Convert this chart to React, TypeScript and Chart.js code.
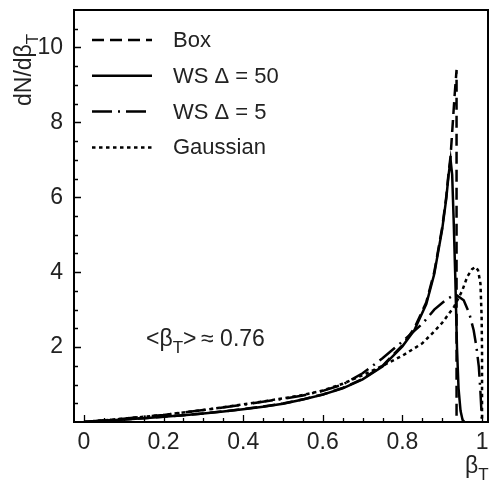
import React, { useEffect, useRef } from "react";
import { Chart, registerables } from "chart.js";

Chart.register(...registerables);

// ---- data ----
const boxBeta = [0, 0.05, 0.1, 0.15, 0.2, 0.25, 0.3, 0.35, 0.4, 0.45, 0.5, 0.55, 0.6, 0.65, 0.7, 0.75, 0.8, 0.83, 0.86, 0.88, 0.9, 0.91, 0.916, 0.921, 0.926, 0.931, 0.936, 0.936];
const boxDensity = [0, 0.034, 0.068, 0.102, 0.142, 0.183, 0.228, 0.283, 0.344, 0.415, 0.495, 0.605, 0.735, 0.91, 1.15, 1.5, 2.05, 2.5, 3.2, 4.0, 5.2, 6.0, 6.65, 7.1, 7.9, 8.7, 9.4, 0];

const ws50Beta = [0, 0.05, 0.1, 0.15, 0.2, 0.25, 0.3, 0.35, 0.4, 0.45, 0.5, 0.55, 0.6, 0.65, 0.7, 0.75, 0.8, 0.83, 0.86, 0.88, 0.9, 0.91, 0.916, 0.921, 0.925, 0.929, 0.933, 0.937, 0.941, 0.946, 0.951, 0.956];
const ws50Density = [0, 0.033, 0.066, 0.1, 0.14, 0.18, 0.225, 0.28, 0.34, 0.41, 0.49, 0.6, 0.73, 0.9, 1.14, 1.48, 2.02, 2.45, 3.15, 3.95, 5.15, 5.95, 6.6, 7.0, 6.6, 5.3, 3.8, 2.0, 0.9, 0.3, 0.06, 0];

const ws5Beta = [0, 0.1, 0.2, 0.3, 0.4, 0.5, 0.55, 0.6, 0.65, 0.7, 0.75, 0.8, 0.85, 0.88, 0.91, 0.933, 0.954, 0.968, 0.979, 0.986, 0.992, 0.996, 1.0];
const ws5Density = [0, 0.09, 0.19, 0.32, 0.46, 0.62, 0.71, 0.83, 1.0, 1.3, 1.7, 2.15, 2.62, 3.0, 3.27, 3.41, 3.25, 2.9, 2.45, 2.0, 1.47, 0.8, 0];

const gaussBeta = [0, 0.1, 0.2, 0.3, 0.4, 0.5, 0.55, 0.6, 0.65, 0.7, 0.75, 0.8, 0.85, 0.88, 0.9, 0.93, 0.95, 0.963, 0.975, 0.984, 0.99, 0.996, 0.999, 1.0, 1.0];
const gaussDensity = [0, 0.09, 0.19, 0.32, 0.47, 0.63, 0.72, 0.84, 1.02, 1.25, 1.5, 1.77, 2.1, 2.42, 2.65, 3.08, 3.5, 3.88, 4.08, 4.14, 4.05, 3.7, 2.8, 1.9, 0];

const seriesLabels = ["Box", "WS \u0394 = 50", "WS \u0394 = 5", "Gaussian"];
const xTickValues = [0, 0.2, 0.4, 0.6, 0.8, 1];
const yTickValues = [2, 4, 6, 8, 10];
const meanText = ["<\u03B2", "T", ">\u2009\u2248 0.76"];

const FONT = "'Liberation Sans', Arial, Helvetica, sans-serif";
const TEXT = "#222";
const dashes = [[12, 6], [], [20, 6, 2, 6], [3.5, 3.5]];

function toPoints(xs: number[], ys: number[]) {
  return xs.map((v, i) => ({ x: v, y: ys[i] }));
}

function drawSub(ctx: CanvasRenderingContext2D, x: number, y: number, parts: string[], size: number, subSize: number, subDrop: number) {
  let cx = x;
  ctx.font = `${size}px ${FONT}`;
  ctx.fillText(parts[0], cx, y);
  cx += ctx.measureText(parts[0]).width;
  ctx.font = `${subSize}px ${FONT}`;
  ctx.fillText(parts[1], cx, y + subDrop);
  cx += ctx.measureText(parts[1]).width;
  if (parts[2]) {
    ctx.font = `${size}px ${FONT}`;
    ctx.fillText(parts[2], cx, y);
  }
}

const overlay = {
  id: "overlay",
  afterDraw(chart: any) {
    const { ctx, chartArea: a } = chart;
    const xs = chart.scales.x;
    const ys = chart.scales.y;
    ctx.save();
    // frame
    ctx.strokeStyle = "#000";
    ctx.lineWidth = 2;
    ctx.setLineDash([]);
    ctx.strokeRect(a.left, a.top, a.right - a.left, a.bottom - a.top);
    // inward ticks
    ctx.lineWidth = 1.3;
    ctx.beginPath();
    for (let i = 0; i <= 20; i++) {
      const px = Math.round(xs.getPixelForValue(i * 0.05)) + 0.5;
      const len = i % 4 === 0 ? 7 : 4;
      ctx.moveTo(px, a.bottom);
      ctx.lineTo(px, a.bottom - len);
    }
    for (let i = 1; i <= 21; i++) {
      const py = Math.round(ys.getPixelForValue(i * 0.5)) + 0.5;
      const len = i % 4 === 0 ? 7 : 4;
      ctx.moveTo(a.left, py);
      ctx.lineTo(a.left + len, py);
    }
    ctx.stroke();

    // legend
    chart.data.datasets.forEach((ds: any, i: number) => {
      const ly = 40 + i * 35.8;
      ctx.strokeStyle = "#000";
      ctx.lineWidth = 2.5;
      ctx.setLineDash(dashes[i]);
      ctx.beginPath();
      ctx.moveTo(92, ly);
      ctx.lineTo(152, ly);
      ctx.stroke();
      ctx.setLineDash([]);
      ctx.fillStyle = TEXT;
      ctx.font = `22px ${FONT}`;
      ctx.textAlign = "left";
      ctx.textBaseline = "middle";
      ctx.fillText(ds.label, 173, ly + 1);
    });

    // annotation
    ctx.textBaseline = "alphabetic";
    ctx.fillStyle = TEXT;
    drawSub(ctx, 146, 346, meanText, 23, 17, 7);

    // x title
    drawSub(ctx, 465, 473, ["\u03B2", "T", ""], 23, 17, 7);

    // y title (rotated)
    ctx.save();
    ctx.translate(31, 106);
    ctx.rotate(-Math.PI / 2);
    drawSub(ctx, 0, 0, ["dN/d\u03B2", "T", ""], 23, 17, 7);
    ctx.restore();

    ctx.restore();
  },
};

export default function App() {
  const ref = useRef<HTMLCanvasElement | null>(null);
  useEffect(() => {
    if (!ref.current) return;
    const series = [
      toPoints(boxBeta, boxDensity),
      toPoints(ws50Beta, ws50Density),
      toPoints(ws5Beta, ws5Density),
      toPoints(gaussBeta, gaussDensity),
    ];
    const chart = new Chart(ref.current, {
      type: "line",
      data: {
        datasets: series.map((pts, i) => ({
          label: seriesLabels[i],
          data: pts,
          borderColor: "#000",
          borderWidth: 2.5,
          borderDash: dashes[i],
          pointRadius: 0,
          fill: false,
          tension: 0,
        })),
      },
      options: {
        responsive: false,
        animation: false,
        events: [],
        layout: { padding: { top: 10, right: 3, left: 0, bottom: 0 } },
        plugins: { legend: { display: false }, tooltip: { enabled: false } },
        scales: {
          x: {
            type: "linear",
            min: -0.025,
            max: 1.015,
            grid: { display: false, drawTicks: false },
            border: { display: false },
            afterBuildTicks: (axis: any) => {
              axis.ticks = xTickValues.map((v) => ({ value: v }));
            },
            afterFit: (axis: any) => {
              axis.height = 63;
              axis.paddingLeft = 0;
              axis.paddingRight = 0;
            },
            ticks: {
              padding: 7,
              color: TEXT,
              font: { family: FONT, size: 23 },
              maxRotation: 0,
              autoSkip: false,
              callback: (v: any) => String(Number(Number(v).toFixed(2))),
            },
          },
          y: {
            type: "linear",
            min: 0,
            max: 11,
            grid: { display: false, drawTicks: false },
            border: { display: false },
            afterBuildTicks: (axis: any) => {
              axis.ticks = yTickValues.map((v) => ({ value: v }));
            },
            afterFit: (axis: any) => {
              axis.width = 74;
              axis.paddingTop = 0;
              axis.paddingBottom = 0;
            },
            ticks: {
              padding: 11,
              color: TEXT,
              font: { family: FONT, size: 23 },
              autoSkip: false,
              callback: (v: any) => String(v),
            },
          },
        },
      },
      plugins: [overlay],
    });
    return () => chart.destroy();
  }, []);
  return (
    <div style={{ position: "fixed", left: 0, top: 0, width: 491, height: 485, background: "#fff" }}>
      <canvas ref={ref} width={491} height={485} style={{ display: "block", width: 491, height: 485 }} />
    </div>
  );
}
